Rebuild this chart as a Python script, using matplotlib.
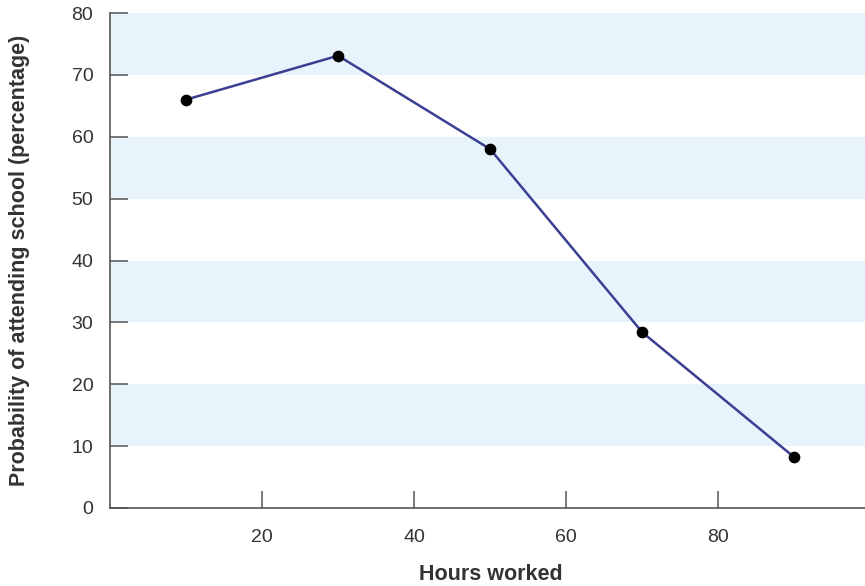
import matplotlib.pyplot as plt

hours = [10, 30, 50, 70, 90]
prob = [66.0, 73.1, 58.0, 28.4, 8.2]
xticks = [20, 40, 60, 80]
yticks = [0, 10, 20, 30, 40, 50, 60, 70, 80]

plt.rcParams['font.family'] = ['Liberation Sans', 'DejaVu Sans']

fig = plt.figure(figsize=(8.65, 5.86), dpi=100)
ax = fig.add_axes([110/865, 78/586, 755/865, 495/586])

# alternating light blue bands
for lo in range(10, 80, 20):
    ax.axhspan(lo, lo + 10, color='#e8f4fc', lw=0, zorder=0)

ax.plot(hours, prob, color='#3a3f94', lw=1.8, zorder=2)
ax.scatter(hours, prob, s=55, color='black', zorder=3)

ax.set_xlim(0, 99.3)
ax.set_ylim(0, 80)
ax.set_xticks(xticks)
ax.set_yticks(yticks)

for s in ['top', 'right']:
    ax.spines[s].set_visible(False)
for s in ['left', 'bottom']:
    ax.spines[s].set_color('#555555')
    ax.spines[s].set_linewidth(1.2)

ax.tick_params(axis='y', direction='in', length=13, width=1.1, color='#555555',
               labelsize=14, labelcolor='#333333', pad=12)
ax.tick_params(axis='x', direction='in', length=12, width=1.1, color='#555555',
               labelsize=14, labelcolor='#333333', pad=15)

fig.text(20/865, 1 - 260/586, 'Probability of attending school (percentage)', rotation=90,
         ha='center', va='center', fontsize=15.5, fontweight='bold', color='#333333')
fig.text(491/865, 1 - 575/586, 'Hours worked', ha='center', va='center',
         fontsize=15.5, fontweight='bold', color='#333333')

fig.savefig('out.png', dpi=100)
